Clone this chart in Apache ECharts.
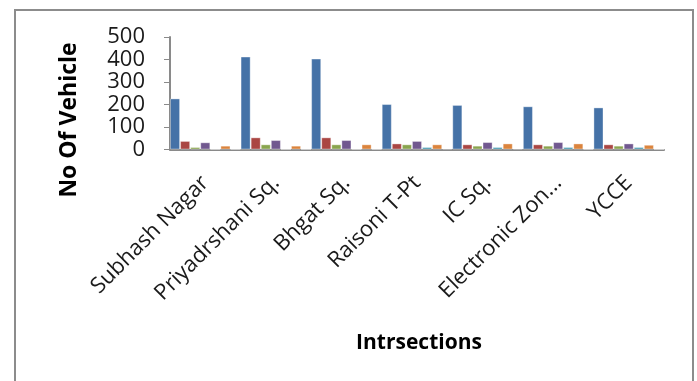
<!DOCTYPE html>
<html>
<head>
<meta charset="utf-8">
<script src="https://cdn.jsdelivr.net/npm/echarts@6/dist/echarts.min.js"></script>
<style>html,body{margin:0;padding:0;background:#fff;}#c{width:697px;height:381px;}</style>
</head>
<body>
<div id="c"></div>
<script>
const categories = ['Subhash Nagar', 'Priyadrshani Sq.', 'Bhgat Sq.', 'Raisoni T-Pt', 'IC Sq.', 'Electronic Zon...', 'YCCE'];
const series1 = [227, 413, 404, 202, 198, 192, 187];
const series2 = [38, 54, 54, 27, 23, 23, 23];
const series3 = [11, 23, 23, 23, 17, 17, 17];
const series4 = [32, 42, 42, 38, 33, 33, 27];
const series5 = [0, 0, 0, 11, 11, 11, 11];
const series6 = [17, 17, 23, 23, 27, 27, 21];
const series7 = [0, 0, 0, 4, 4, 0, 0];
const yTicks = [0, 100, 200, 300, 400, 500];

const allSeries = [series1, series2, series3, series4, series5, series6, series7];
const colors = ['#4572A7', '#AA4643', '#89A54E', '#71588F', '#4198AF', '#DB843D', '#A9BBDC'];

const chart = echarts.init(document.getElementById('c'), null, {renderer: 'canvas'});
chart.setOption({
  animation: false,
  backgroundColor: '#ffffff',
  grid: {left: 170, top: 37, right: 33, bottom: 231.5, containLabel: false},
  xAxis: {
    type: 'category',
    data: categories,
    axisLine: {lineStyle: {color: '#8a8a8a', width: 2}},
    axisTick: {show: false},
    axisLabel: {
      interval: 0, rotate: 45, margin: 30, color: '#1a1a1a',
      fontFamily: 'Open Sans', fontSize: 22
    }
  },
  yAxis: {
    type: 'value',
    min: yTicks[0], max: yTicks[yTicks.length - 1], interval: 100,
    splitLine: {show: false},
    axisLine: {show: true, lineStyle: {color: '#8a8a8a', width: 2}},
    axisTick: {show: true, length: 6, lineStyle: {color: '#8a8a8a', width: 1}},
    axisLabel: {margin: 25, color: '#1a1a1a', fontFamily: 'Open Sans', fontSize: 22}
  },
  series: allSeries.map((d, i) => ({
    name: 'Series ' + (i + 1),
    type: 'bar',
    data: d,
    barGap: '0%',
    barCategoryGap: '0%',
    itemStyle: {color: colors[i], borderColor: 'rgba(255,255,255,0.35)', borderWidth: 1}
  })),
  graphic: [
    {type: 'rect', shape: {x: 15, y: 10, width: 678, height: 420},
     style: {fill: 'none', stroke: '#8c8c8c', lineWidth: 2}, silent: true},
    {type: 'text', x: 69, y: 120, rotation: Math.PI / 2,
     style: {text: 'No Of Vehicle', fontFamily: 'Open Sans', fontWeight: 'bold', fontSize: 23,
             fill: '#000', align: 'center', verticalAlign: 'middle'}},
    {type: 'text', x: 419, y: 343,
     style: {text: 'Intrsections', fontFamily: 'Open Sans', fontWeight: 'bold', fontSize: 21,
             fill: '#000', align: 'center', verticalAlign: 'middle'}}
  ]
});
</script>
</body>
</html>
